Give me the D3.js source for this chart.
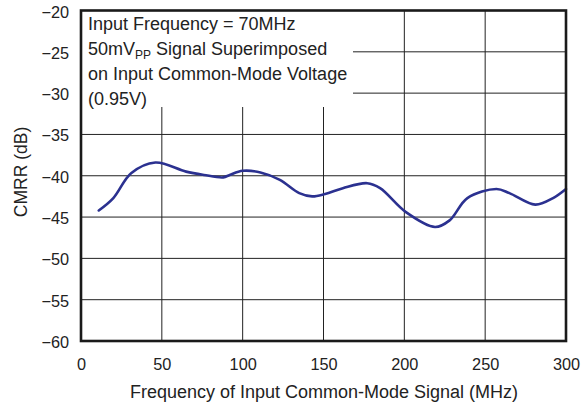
<!DOCTYPE html>
<html><head><meta charset="utf-8">
<script src="https://cdn.jsdelivr.net/npm/d3@7"></script>
<style>body{margin:0;background:#fff;}svg{display:block;font-family:"Liberation Sans",Arial,sans-serif;}</style>
</head><body>
<svg id="c" width="584" height="402"></svg>
<script>
const freq = [11, 20, 31, 46, 65, 76, 88, 92, 100, 111, 123, 135, 143, 151, 162, 177, 185, 201, 219, 228, 239, 257, 265, 281, 292, 300];
const cmrr = [-44.2, -42.7, -39.7, -38.4, -39.5, -39.9, -40.2, -39.9, -39.4, -39.6, -40.5, -42.1, -42.5, -42.2, -41.5, -40.9, -41.5, -44.4, -46.2, -45.4, -42.7, -41.6, -42.1, -43.5, -42.7, -41.6];
const xTicks = [0, 50, 100, 150, 200, 250, 300];
const yTicks = [-20, -25, -30, -35, -40, -45, -50, -55, -60];
const noteLines = ["Input Frequency = 70MHz", "50mV|PP| Signal Superimposed", "on Input Common-Mode Voltage", "(0.95V)"];
const xTitle = "Frequency of Input Common-Mode Signal (MHz)";
const yTitle = "CMRR (dB)";

const svg = d3.select("#c");
const L = 81, R = 566, T = 10.5, B = 341;
const x = d3.scaleLinear().domain([0, 300]).range([L, R]);
const y = d3.scaleLinear().domain([-60, -20]).range([B, T]);
const FONT = "Liberation Sans, Arial, sans-serif";

// grid
const g = svg.append("g");
g.selectAll(".vx").data(xTicks.slice(1, -1)).join("line")
  .attr("x1", d => x(d)).attr("x2", d => x(d)).attr("y1", T).attr("y2", B)
  .attr("stroke", "#222").attr("stroke-width", 1);
g.selectAll(".hy").data(yTicks.slice(1, -1)).join("line")
  .attr("x1", L).attr("x2", R).attr("y1", d => y(d)).attr("y2", d => y(d))
  .attr("stroke", "#222").attr("stroke-width", 1);

// note box (white background)
svg.append("rect").attr("x", L).attr("y", T).attr("width", 272).attr("height", 96.5).attr("fill", "#fff");

// tick labels
const yAxis = d3.axisLeft(y).tickValues(yTicks).tickSize(0).tickPadding(12).tickFormat(d => String(d).replace("-", "\u2212"));
const ya = svg.append("g").attr("transform", `translate(${L},0)`).call(yAxis);
ya.select(".domain").remove();
ya.selectAll("text").attr("font-size", 16.3).attr("fill", "#222").attr("font-family", FONT).attr("dy", "0.4em");

const xAxis = d3.axisBottom(x).tickValues(xTicks).tickSize(0).tickPadding(17);
const xa = svg.append("g").attr("transform", `translate(0,${B})`).call(xAxis);
xa.select(".domain").remove();
xa.selectAll("text").attr("font-size", 16.3).attr("fill", "#222").attr("font-family", FONT);

// titles
svg.append("text").attr("x", 324).attr("y", 398).attr("text-anchor", "middle")
  .attr("font-size", 18).attr("fill", "#222").text(xTitle);
svg.append("text").attr("transform", "translate(27,172) rotate(-90)").attr("text-anchor", "middle")
  .attr("font-size", 17.5).attr("fill", "#222").text(yTitle);

// note text
const nt = svg.append("g");
noteLines.forEach((ln, i) => {
  const t = nt.append("text").attr("x", 88).attr("y", 29.5 + i * 25.3).attr("font-size", 18).attr("fill", "#222");
  const parts = ln.split("|");
  parts.forEach((p, j) => {
    if (j % 2 === 1) {
      t.append("tspan").attr("font-size", 12).attr("dy", 4).text(p);
    } else {
      const s = t.append("tspan").text(p);
      if (j > 0) s.attr("dy", -4);
    }
  });
});

// curve
const line = d3.line().x((d, i) => x(freq[i])).y(d => y(d)).curve(d3.curveCatmullRom.alpha(0.5));
svg.append("path").datum(cmrr).attr("d", line).attr("fill", "none")
  .attr("stroke", "#2b3190").attr("stroke-width", 2.6).attr("stroke-linecap", "round");

// frame
svg.append("rect").attr("x", L).attr("y", T).attr("width", R - L).attr("height", B - T)
  .attr("fill", "none").attr("stroke", "#1a1a1a").attr("stroke-width", 2.6);
</script>
</body></html>
